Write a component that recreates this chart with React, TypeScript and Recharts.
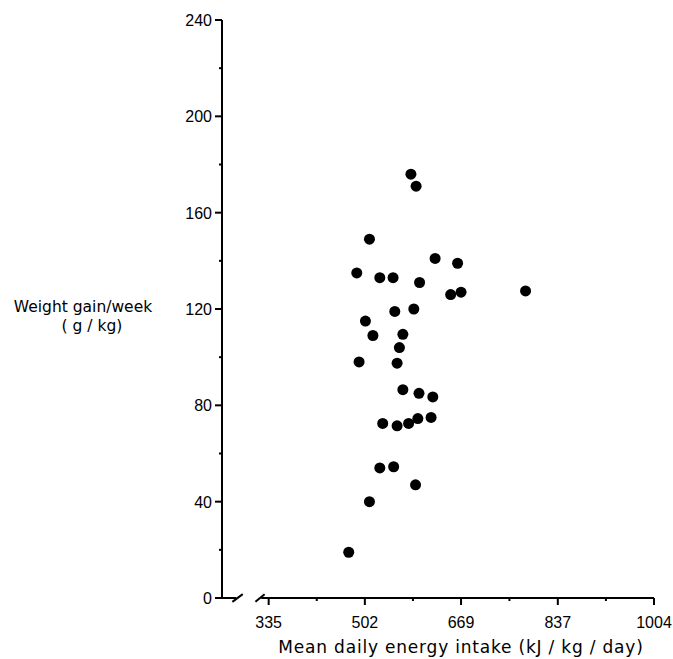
import React from "react";
import {
  ScatterChart,
  Scatter,
  XAxis,
  YAxis,
  ReferenceLine,
} from "recharts";

// ---------------------------------------------------------------------------
// Data
// ---------------------------------------------------------------------------

// Mean daily energy intake, kJ/kg/day
const energyIntake = [
  582, 591, 510, 624, 663, 488, 528, 551, 597, 651, 669, 781, 554, 587, 503,
  516, 568, 562, 492, 558, 568, 596, 620, 533, 558, 578, 594, 617, 528, 552,
  590, 510, 474,
];

// Weight gain per week, g/kg
const weightGain = [
  176, 171, 149, 141, 139, 135, 133, 133, 131, 126, 127, 127.5, 119, 120, 115,
  109, 109.5, 104, 98, 97.5, 86.5, 85, 83.5, 72.5, 71.5, 72.5, 74.5, 75, 54,
  54.5, 47, 40, 19,
];

const xMajorTicks = [335, 502, 669, 837, 1004];
const xMinorTicks = [418.5, 585.5, 753, 920.5];
const yMajorTicks = [0, 40, 80, 120, 160, 200, 240];
const yMinorTicks = [20, 60, 100, 140, 180, 220];

const X_DOMAIN: [number, number] = [254, 1004];
const Y_DOMAIN: [number, number] = [0, 240];

const points = energyIntake.map((x, i) => ({ x, y: weightGain[i] }));

const FONT = "'DejaVu Sans', sans-serif";
const TICK_FONT = "'Liberation Sans', Arial, sans-serif";

// ---------------------------------------------------------------------------
// Custom ticks: long ticks with labels, short ticks without
// ---------------------------------------------------------------------------

function XTick(props: any) {
  const { x, y, payload } = props;
  const major = xMajorTicks.includes(payload.value);
  return (
    <g>
      <line x1={x} y1={y} x2={x} y2={y + (major ? 7 : 3)} stroke="#000" strokeWidth={2} />
      {major && (
        <text x={x} y={y + 30} textAnchor="middle" fontSize={16} fontFamily={TICK_FONT} fill="#000">
          {payload.value}
        </text>
      )}
    </g>
  );
}

function YTick(props: any) {
  const { x, y, payload } = props;
  const major = yMajorTicks.includes(payload.value);
  return (
    <g>
      <line x1={x} y1={y} x2={x - (major ? 7 : 3)} y2={y} stroke="#000" strokeWidth={2} />
      {major && (
        <text x={x - 10} y={y + 6} textAnchor="end" fontSize={16} fontFamily={TICK_FONT} fill="#000">
          {payload.value}
        </text>
      )}
    </g>
  );
}

const Dot = (p: any) => <circle cx={p.cx} cy={p.cy} r={5.5} fill="#000" />;

// ---------------------------------------------------------------------------
// Component
// ---------------------------------------------------------------------------

export default function App() {
  const allX = [...xMajorTicks, ...xMinorTicks].sort((a, b) => a - b);
  const allY = [...yMajorTicks, ...yMinorTicks].sort((a, b) => a - b);

  // x-axis is broken between the y-axis and 335
  const line = { stroke: "#000", strokeWidth: 2, ifOverflow: "visible" as const };

  return (
    <div style={{ position: "absolute", left: 0, top: 0, background: "#fff" }}>
      <ScatterChart
        width={673}
        height={659}
        margin={{ top: 20, right: 19, bottom: 31, left: 182 }}
      >
        <XAxis
          type="number"
          dataKey="x"
          domain={X_DOMAIN}
          ticks={allX}
          interval={0}
          allowDataOverflow
          axisLine={false}
          tickLine={false}
          tickSize={0}
          tickMargin={0}
          height={30}
          tick={<XTick />}
          label={{
            content: () => (
              <text
                x={461}
                y={653}
                textAnchor="middle"
                fontSize={17}
                letterSpacing={0.8}
                fontFamily={FONT}
                fill="#000"
              >
                Mean daily energy intake (kJ / kg / day)
              </text>
            ),
          }}
        />
        <YAxis
          type="number"
          dataKey="y"
          domain={Y_DOMAIN}
          ticks={allY}
          interval={0}
          allowDataOverflow
          axisLine={{ stroke: "#000", strokeWidth: 2 }}
          tickLine={false}
          tickSize={0}
          tickMargin={0}
          width={40}
          tick={<YTick />}
          label={{
            content: () => (
              <g>
                <text x={83} y={312} textAnchor="middle" fontSize={15.5} fontFamily={FONT} fill="#000">
                  Weight gain/week
                </text>
                <text x={92} y={331} textAnchor="middle" fontSize={15.5} fontFamily={FONT} fill="#000">
                  ( g / kg)
                </text>
              </g>
            ),
          }}
        />
        <ReferenceLine segment={[{ x: 254, y: 0 }, { x: 279, y: 0 }]} {...line} />
        <ReferenceLine segment={[{ x: 272, y: -1.6 }, { x: 290, y: 1.6 }]} {...line} />
        <ReferenceLine segment={[{ x: 312, y: -1.6 }, { x: 328, y: 1.6 }]} {...line} />
        <ReferenceLine segment={[{ x: 322, y: 0 }, { x: 1004, y: 0 }]} {...line} />
        <Scatter data={points} shape={Dot} isAnimationActive={false} />
      </ScatterChart>
    </div>
  );
}
